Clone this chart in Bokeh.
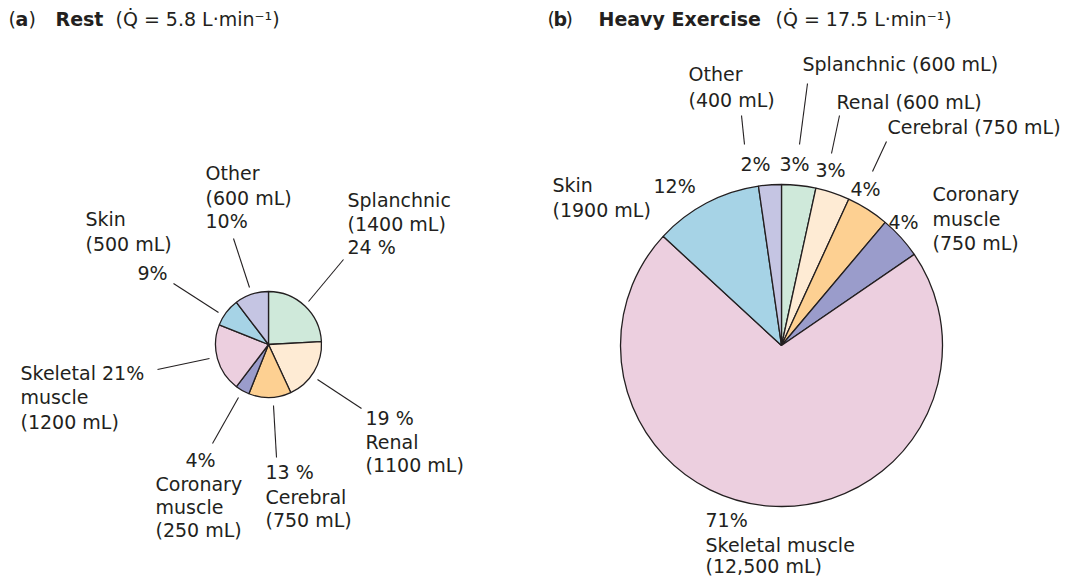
import math
from bokeh.plotting import figure
from bokeh.models import Range1d, ColumnDataSource
from bokeh.core.properties import value
from bokeh.embed import file_html
from bokeh.resources import INLINE

# ---------------- data ----------------
regions = ["Splanchnic", "Renal", "Cerebral", "Coronary muscle", "Skeletal muscle", "Skin", "Other"]
rest_ml = [1400, 1100, 750, 250, 1200, 500, 600]
rest_pct = [24, 19, 13, 4, 21, 9, 10]
exercise_ml = [600, 600, 750, 750, 12500, 1900, 400]
exercise_pct = [3, 3, 4, 4, 71, 12, 2]
colors = ["#cfe9da", "#feebd4", "#fdd092", "#9a9ccb", "#eccfdf", "#a6d3e6", "#c5c5e3"]
rest_output = 5.8
exercise_output = 17.5

# ---------------- layout ----------------
W, H = 1070, 580
FONT = "DejaVu Sans"
FS = "19px"
INK = "#231f20"
TEXT_DY = -9  # baseline correction


def X(px):
    return px


def Y(py):
    return H - py


def ml(v):
    return f"{v:,}" if v >= 10000 else str(v)


p = figure(width=W, height=H, output_backend="svg", toolbar_location=None,
           x_range=Range1d(0, W), y_range=Range1d(0, H), min_border=0)
p.axis.visible = False
p.grid.visible = False
p.outline_line_color = None
p.background_fill_color = "white"


def pie(vals, cx, cy, r):
    total = float(sum(vals))
    cum = 0.0
    starts, ends = [], []
    for v in vals:
        a0 = math.pi / 2 - 2 * math.pi * cum / total
        cum += v
        a1 = math.pi / 2 - 2 * math.pi * cum / total
        starts.append(a1)
        ends.append(a0)
    src = ColumnDataSource(dict(start=starts, end=ends, color=colors, region=regions, v=vals))
    p.wedge(x=X(cx), y=Y(cy), radius=r, start_angle="start", end_angle="end",
            fill_color="color", line_color=INK, line_width=1.3, source=src)


pie(rest_ml, 268, 344, 53)
pie(exercise_ml, 781, 345, 161)


def txt(xs, ys, ts, bold=False):
    p.text(x=[X(a) for a in xs], y=[Y(b + TEXT_DY) for b in ys], text=ts,
           text_font=value(FONT), text_font_size=FS, text_color=INK,
           text_baseline="alphabetic", text_align="left",
           text_font_style="bold" if bold else "normal")


def seg(lines):
    p.segment(x0=[X(l[0]) for l in lines], y0=[Y(l[1]) for l in lines],
              x1=[X(l[2]) for l in lines], y1=[Y(l[3]) for l in lines],
              line_color=INK, line_width=1.1)


# ---------------- titles ----------------
txt([8, 28], [27, 27], ["(", ")"])
txt([15, 55], [27, 27], ["a", "Rest"], bold=True)
txt([115], [27], [f"(Q\u0307 = {rest_output} L\u00b7min\u207b\u00b9)"])

txt([547, 565], [27, 27], ["(", ")"])
txt([553, 598], [27, 27], ["b", "Heavy Exercise"], bold=True)
txt([775], [27], [f"(Q\u0307 = {exercise_output} L\u00b7min\u207b\u00b9)"])

# ---------------- rest labels ----------------
sk0, sk1 = regions[4].split()
co0, co1 = regions[3].split()
rest_lines = [
    (205, 181, regions[6]), (205, 206, f"({ml(rest_ml[6])} mL)"), (205, 229, f"{rest_pct[6]}%"),
    (347, 208, regions[0]), (347, 232, f"({ml(rest_ml[0])} mL)"), (347, 255, f"{rest_pct[0]} %"),
    (85, 227, regions[5]), (85, 252, f"({ml(rest_ml[5])} mL)"),
    (137, 281, f"{rest_pct[5]}%"),
    (20, 381, f"{sk0} {rest_pct[4]}%"), (20, 405, sk1), (20, 430, f"({ml(rest_ml[4])} mL)"),
    (185, 468, f"{rest_pct[3]}%"), (155, 492, co0), (155, 515, co1), (155, 538, f"({ml(rest_ml[3])} mL)"),
    (265, 480, f"{rest_pct[2]} %"), (265, 505, regions[2]), (265, 528, f"({ml(rest_ml[2])} mL)"),
    (365, 426, f"{rest_pct[1]} %"), (365, 450, regions[1]), (365, 473, f"({ml(rest_ml[1])} mL)"),
]
txt([l[0] for l in rest_lines], [l[1] for l in rest_lines], [l[2] for l in rest_lines])
seg([(233, 238, 249, 287), (343, 259, 308, 301), (173, 283, 218, 312),
     (157, 369, 209, 358), (212, 443, 238, 397), (273, 405, 276, 457), (317, 379, 361, 408)])

# ---------------- exercise labels ----------------
ex_lines = [
    (688, 82, regions[6]), (688, 108, f"({ml(exercise_ml[6])} mL)"),
    (802, 72, f"{regions[0]} ({ml(exercise_ml[0])} mL)"),
    (836, 110, f"{regions[1]} ({ml(exercise_ml[1])} mL)"),
    (887, 135, f"{regions[2]} ({ml(exercise_ml[2])} mL)"),
    (740, 172, f"{exercise_pct[6]}%"), (779, 172, f"{exercise_pct[0]}%"),
    (815, 178, f"{exercise_pct[1]}%"), (850, 197, f"{exercise_pct[2]}%"),
    (552, 193, regions[5]), (552, 218, f"({ml(exercise_ml[5])} mL)"),
    (653, 194, f"{exercise_pct[5]}%"),
    (932, 202, co0), (932, 227, co1), (932, 251, f"({ml(exercise_ml[3])} mL)"),
    (888, 230, f"{exercise_pct[3]}%"),
    (705, 528, f"{exercise_pct[4]}%"), (705, 553, regions[4]), (705, 574, f"({ml(exercise_ml[4])} mL)"),
]
txt([l[0] for l in ex_lines], [l[1] for l in ex_lines], [l[2] for l in ex_lines])
seg([(741, 115, 744, 144), (807, 83, 799, 144), (839, 115, 831, 153), (886, 141, 872, 171)])

open("out.html", "w").write(file_html(p, INLINE))
